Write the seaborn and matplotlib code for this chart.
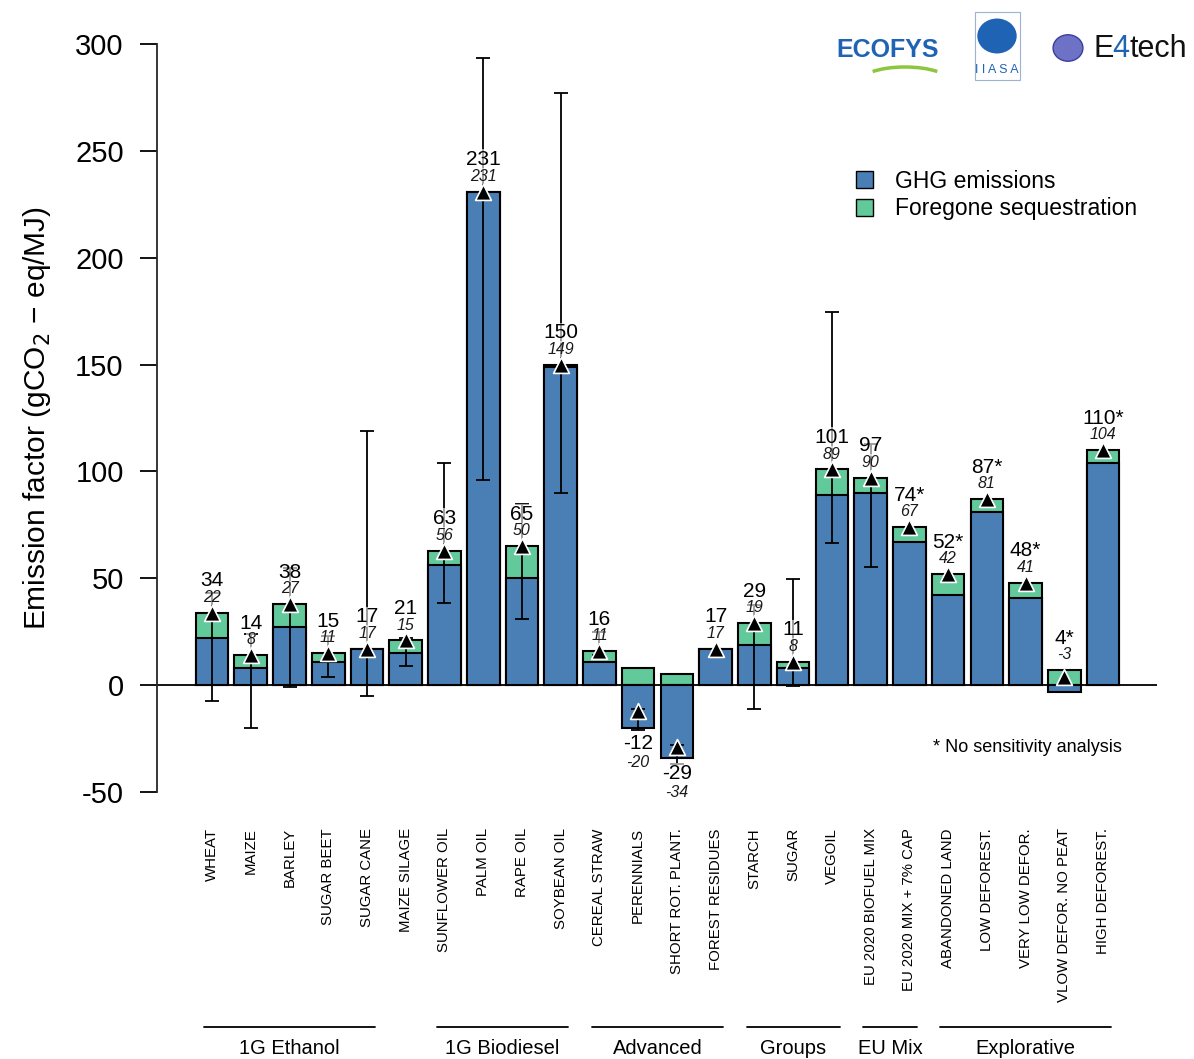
import numpy as np
import pandas as pd
import matplotlib.pyplot as plt
import seaborn as sns
from matplotlib.patches import Patch, Circle, Rectangle, Arc

# Datos
categories = ['WHEAT', 'MAIZE', 'BARLEY', 'SUGAR BEET', 'SUGAR CANE', 'MAIZE SILAGE',
              'SUNFLOWER OIL', 'PALM OIL', 'RAPE OIL', 'SOYBEAN OIL',
              'CEREAL STRAW', 'PERENNIALS', 'SHORT ROT. PLANT.', 'FOREST RESIDUES',
              'STARCH', 'SUGAR', 'VEGOIL',
              'EU 2020 BIOFUEL MIX', 'EU 2020 MIX + 7% CAP',
              'ABANDONED LAND', 'LOW DEFOREST.', 'VERY LOW DEFOR.', 'VLOW DEFOR. NO PEAT',
              'HIGH DEFOREST.']
total = [34, 14, 38, 15, 17, 21, 63, 231, 65, 150, 16, -12, -29, 17,
         29, 11, 101, 97, 74, 52, 87, 48, 4, 110]
ghg = [22, 8, 27, 11, 17, 15, 56, 231, 50, 149, 11, -20, -34, 17,
       19, 8, 89, 90, 67, 42, 81, 41, -3, 104]
err_low = [-7.5, -20, -1, 4, -5, 9, 38.5, 96, 31, 90, 14, -21, -37, np.nan,
           -11, -0.5, 66.5, 55.5, np.nan, np.nan, np.nan, np.nan, np.nan, np.nan]
err_high = [43, 24, 55, 23, 119, 22, 104, 293.5, 85, 277, 25, -11, -28, np.nan,
            37.5, 49.5, 174.5, 113, np.nan, np.nan, np.nan, np.nan, np.nan, np.nan]
no_sensitivity = [False] * 18 + [True] * 6

groups = ['1G Ethanol', '1G Biodiesel', 'Advanced', 'Groups', 'EU Mix', 'Explorative']
group_start = [0, 6, 10, 14, 17, 19]
group_end = [4, 9, 13, 16, 18, 23]

BLUE = '#4a7fb5'
GREEN = '#62c99b'

df = pd.DataFrame({'cat': categories, 'total': total, 'ghg': ghg,
                   'low': err_low, 'high': err_high})
# parte verde: desde la parte azul hasta el total (o desde 0 si azul es negativo)
df['seq'] = df['total'] - df['ghg']
df['green_top'] = np.where(df['ghg'] >= 0, df['total'], df['seq'])
df['pos'] = np.arange(len(df))

sns.set_style('ticks')
plt.rcParams['font.family'] = ['Liberation Sans', 'DejaVu Sans']
plt.rcParams['axes.unicode_minus'] = False
plt.rcParams['text.color'] = 'black'
plt.rcParams['axes.labelcolor'] = 'black'
plt.rcParams['xtick.color'] = 'black'
plt.rcParams['ytick.color'] = 'black'

fig = plt.figure(figsize=(11.94, 10.59), dpi=100)
ax = fig.add_axes([0.1315, 0.2521, 0.8375, 0.7063])

ax.axhline(0, color='black', lw=1.3, zorder=0.5)

sns.barplot(data=df, x='cat', y='green_top', color=GREEN, saturation=1,
            width=0.84, edgecolor='black', linewidth=1.5, ax=ax, zorder=2)
sns.barplot(data=df, x='cat', y='ghg', color=BLUE, saturation=1,
            width=0.84, edgecolor='black', linewidth=1.5, ax=ax, zorder=2)

# barras de error
eb = df.dropna(subset=['low'])
ax.errorbar(eb['pos'], eb['total'],
            yerr=[eb['total'] - eb['low'], eb['high'] - eb['total']],
            fmt='none', ecolor='black', elinewidth=1.3, capsize=5, capthick=1.3, zorder=3)

sns.scatterplot(data=df, x='pos', y='total', marker='^', s=130, color='black',
                edgecolor='white', linewidth=1.2, ax=ax, zorder=5, legend=False)

# etiquetas
box = dict(facecolor='white', edgecolor='none', alpha=0.6, pad=0.5)
for _, r in df.iterrows():
    lab = f"{r['total']}" + ('*' if no_sensitivity[r['pos']] else '')
    if r['total'] >= 0:
        anchor = max(r['total'], r['green_top'])
        off_tot, off_ghg = 23, 11
    else:
        anchor = r['ghg']
        off_tot, off_ghg = -11, -25
    ax.annotate(lab, (r['pos'], anchor), xytext=(0, off_tot), textcoords='offset points',
                ha='center', va='center', fontsize=15, bbox=box, zorder=6)
    ax.annotate(f"{r['ghg']}", (r['pos'], anchor), xytext=(0, off_ghg),
                textcoords='offset points', ha='center', va='center',
                fontsize=11.5, style='italic', color='#1a1a1a', bbox=box, zorder=6)

ax.set_xlim(-1.42, 24.39)
ax.set_ylim(-50, 300)
ax.set_yticks(np.arange(-50, 301, 50))
ax.tick_params(axis='y', labelsize=21, length=12, width=1.3, direction='out', pad=12)
ax.tick_params(axis='x', length=0, pad=26)
ax.set_xticks(df['pos'])
ax.set_xticklabels(categories, rotation=90, fontsize=10.8, va='top')
ax.set_xlabel('')
ax.set_ylabel('Emission factor (gCO$_2$ \u2212 eq/MJ)', fontsize=21.5, labelpad=16)
for s in ['top', 'right', 'bottom']:
    ax.spines[s].set_visible(False)
ax.spines['left'].set_bounds(-50, 300)
ax.spines['left'].set_linewidth(1.3)

# grupos debajo de las etiquetas
trans = ax.get_xaxis_transform()
for name, a, b in zip(groups, group_start, group_end):
    ax.plot([a - 0.2, b + 0.2], [-0.314, -0.314], color='black', lw=1.3,
            transform=trans, clip_on=False)
    ax.text((a + b) / 2, -0.343, name, ha='center', va='center', fontsize=14.5,
            transform=trans)

handles = [Patch(facecolor=BLUE, edgecolor='black', label='GHG emissions'),
           Patch(facecolor=GREEN, edgecolor='black', label='Foregone sequestration')]
ax.legend(handles=handles, loc='upper left', bbox_to_anchor=(0.699, 0.832),
          frameon=False, fontsize=16.5, handlelength=0.75, handleheight=0.75,
          handletextpad=0.95, borderaxespad=0, borderpad=0, labelspacing=0.2)

ax.text(0.965, 0.059, '* No sensitivity analysis', transform=ax.transAxes,
        ha='right', va='center', fontsize=13)

# logos (aproximados)
fig.text(888 / 1194, 1 - 50 / 1059, 'ECOFYS', ha='center', va='center',
         fontsize=18, fontweight='bold', color='#1f63b5')
fig.add_artist(Arc((905 / 1194, 1 - 82 / 1059), 90 / 1194, 30 / 1059, theta1=20, theta2=160,
                   transform=fig.transFigure, color='#8cc63f', lw=2.5))
fig.add_artist(Circle((997 / 1194, 1 - 36 / 1059), 0.0165, transform=fig.transFigure,
                      facecolor='#1f63b5', edgecolor='none'))
fig.add_artist(Rectangle((975 / 1194, 1 - 80 / 1059), 45 / 1194, 68 / 1059,
                         transform=fig.transFigure, fill=False, edgecolor='#9bb3d0', lw=0.8))
fig.text(997 / 1194, 1 - 70 / 1059, 'I I A S A', ha='center', va='center',
         fontsize=9, color='#1f63b5')
fig.add_artist(Circle((1068 / 1194, 1 - 48 / 1059), 0.0125, transform=fig.transFigure,
                      facecolor='#6d72c6', edgecolor='#3c3f9a', lw=1))
fig.text(1093 / 1194, 1 - 49 / 1059, 'E', ha='left', va='center', fontsize=22, color='#111111')
fig.text(1112 / 1194, 1 - 49 / 1059, '4', ha='left', va='center', fontsize=22, color='#1f63b5')
fig.text(1129 / 1194, 1 - 49 / 1059, 'tech', ha='left', va='center', fontsize=22, color='#111111')

fig.savefig('out.png', dpi=100)
